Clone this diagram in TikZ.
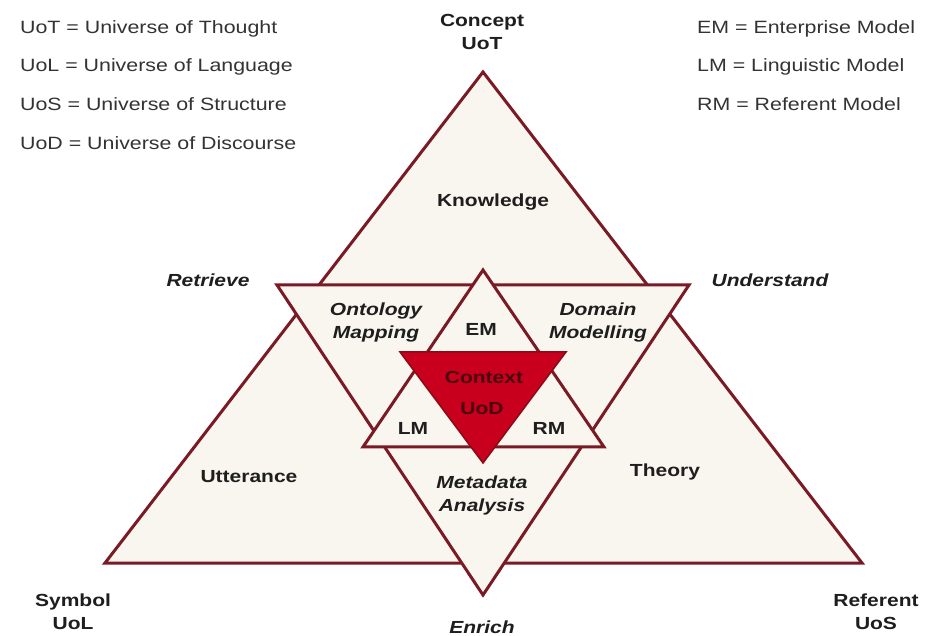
\documentclass[tikz,border=0pt]{standalone}
\usepackage{fontspec}
\setmainfont{Liberation Sans}[FakeStretch=1.2]
\definecolor{edge}{HTML}{7A1A24}
\definecolor{paper}{HTML}{F8F6EF}
\definecolor{core}{HTML}{C8001E}
\definecolor{coreedge}{HTML}{8A0A18}
\definecolor{ink}{HTML}{1E1E1E}
\definecolor{legendgray}{HTML}{333333}
\definecolor{coreink}{HTML}{4A070E}
\definecolor{glow}{HTML}{9FD89F}
\tikzset{
  tri/.style={draw=edge, line width=3pt, fill=paper, line join=miter},
  coretri/.style={draw=coreedge, line width=1.5pt, fill=core, line join=miter},
  glowshape/.style={fill=glow, opacity=0.35},
  lab/.style={font=\bfseries\fontsize{17.5}{23}\selectfont, text=ink, align=center, inner sep=0pt},
  ilab/.style={font=\bfseries\itshape\fontsize{17.5}{23}\selectfont, text=ink, align=center, inner sep=0pt},
  corelab/.style={font=\bfseries\fontsize{17.5}{23}\selectfont, text=coreink, inner sep=0pt},
  legend/.style={font=\fontsize{17.8}{20}\selectfont, text=legendgray, anchor=west, inner sep=0pt}
}
\begin{document}
\begin{tikzpicture}[x=1pt,y=-1pt]
\useasboundingbox[fill=white] (0,0) rectangle (946,636);

% corner points of the four triangles
\coordinate (bigT) at (483,72);
\coordinate (bigL) at (105,563);
\coordinate (bigR) at (862,563);
\coordinate (invL) at (277,285);
\coordinate (invR) at (689,285);
\coordinate (invB) at (483,595);
\coordinate (midT) at (483,270);
\coordinate (midL) at (363,447);
\coordinate (midR) at (604,447);
\coordinate (redL) at (400,352);
\coordinate (redR) at (566,352);
\coordinate (redB) at (483,463);

% soft green shadow below the outer shapes
\foreach \dx/\dy in {2/3,3/5}{
  \fill[glowshape, shift={(\dx,\dy)}] (bigT) -- (bigL) -- (bigR) -- cycle;
  \fill[glowshape, shift={(\dx,\dy)}] (invL) -- (invR) -- (invB) -- cycle;
}

% triangles, back to front
\draw[tri] (bigT) -- (bigL) -- (bigR) -- cycle;
\draw[tri] (invL) -- (invR) -- (invB) -- cycle;
\draw[tri] (midT) -- (midL) -- (midR) -- cycle;
\draw[coretri] (redL) -- (redR) -- (redB) -- cycle;

% corner labels
\node[lab] (concept) at (482,32) {Concept\\UoT};
\node[lab] (symbol) at (73,612) {Symbol\\UoL};
\node[lab] (referent) at (876,612) {Referent\\UoS};

% process labels
\node[ilab] (retrieve) at (208,280) {Retrieve};
\node[ilab] (understand) at (770,280) {Understand};
\node[ilab] (enrich) at (482,627) {Enrich};

% region labels
\node[lab] (knowledge) at (493,202) {Knowledge};
\node[lab] (utterance) at (249,477) {Utterance};
\node[lab] (theory) at (665,472) {Theory};
\node[ilab] (ontology) at (376,322) {Ontology\\Mapping};
\node[ilab] (domain) at (598,322) {Domain\\Modelling};
\node[ilab] (metadata) at (482,495) {Metadata\\Analysis};
\node[lab] (em) at (481,329) {EM};
\node[lab] (lm) at (413,428) {LM};
\node[lab] (rm) at (549,428) {RM};
\node[corelab] (context) at (484,377) {Context};
\node[corelab] (uod) at (482,409) {UoD};

% abbreviations
\node[legend] (kUoT) at (20,29) {UoT = Universe of Thought};
\node[legend] (kUoL) at (20,67) {UoL = Universe of Language};
\node[legend] (kUoS) at (20,104) {UoS = Universe of Structure};
\node[legend] (kUoD) at (20,143) {UoD = Universe of Discourse};
\node[legend] (kEM) at (697,29) {EM = Enterprise Model};
\node[legend] (kLM) at (697,67) {LM = Linguistic Model};
\node[legend] (kRM) at (697,104) {RM = Referent Model};
\end{tikzpicture}
\end{document}
